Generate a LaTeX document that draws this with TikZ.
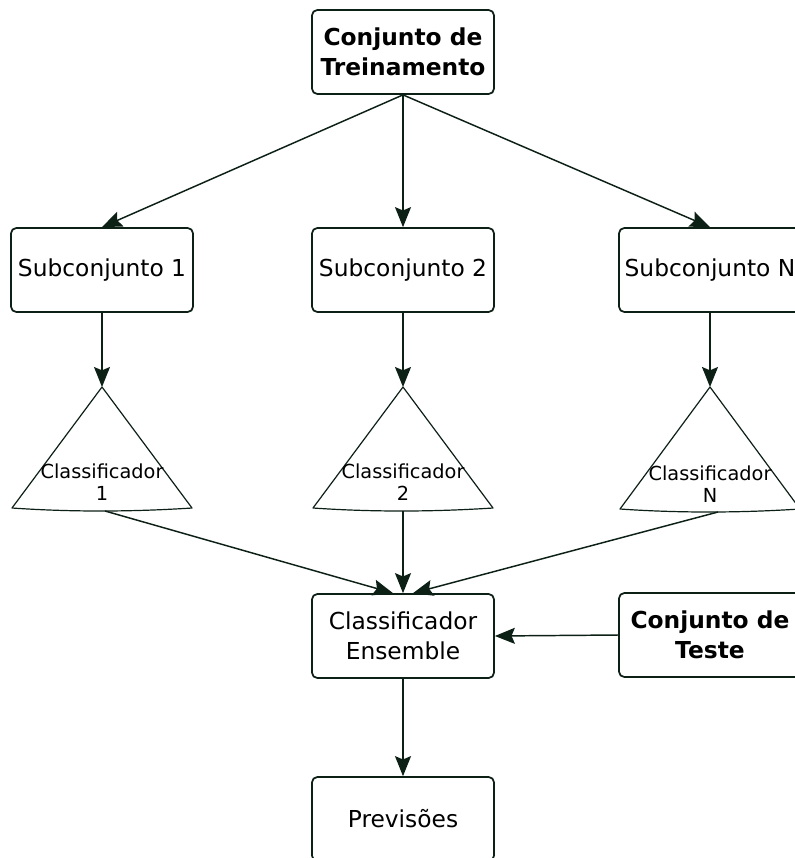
\documentclass[tikz,border=0pt]{standalone}
\usepackage{fontspec}
\setmainfont{DejaVu Sans}
\usetikzlibrary{arrows.meta}
\definecolor{linegreen}{RGB}{12,32,22}
\tikzset{
	box/.style={draw=linegreen, line width=1.3pt, rounded corners=4pt, minimum width=136.5pt, minimum height=63pt, align=center, font=\fontsize{17.5}{22.5}\selectfont},
	tri/.style={draw=linegreen, line width=0.9pt, line join=round},
	trilabel/.style={align=center, font=\fontsize{14.5}{17}\selectfont},
	arr/.style={draw=linegreen, line width=1.1pt, -{Stealth[length=15pt,width=12pt,inset=2.5pt]}}
}

\begin{document}
\begin{tikzpicture}[x=0.75pt, y=-0.75pt]
			%%%%% START %%%%%
			\useasboundingbox (0, 0) rectangle (794, 858);
			
			\node[box] (train) at (403, 52) {\textbf{Conjunto de}\\\textbf{Treinamento}};
			
			\node[box] (sub1) at (102, 270) {Subconjunto 1};
			\node[box] (sub2) at (403, 270) {Subconjunto 2};
			\node[box] (subN) at (710, 270) {Subconjunto N};
			
			\draw[tri] (12, 508) -- (102, 387) -- (192, 508) .. controls (130, 512) and (70, 512) .. cycle;
			\draw[tri] (313, 508) -- (403, 387) -- (493, 508) .. controls (431, 512) and (371, 512) .. cycle;
			\draw[tri] (620, 509) -- (710, 387) -- (800, 509) .. controls (738, 513) and (678, 513) .. cycle;
			
			\coordinate (top1) at (102, 387);
			\coordinate (top2) at (403, 387);
			\coordinate (topN) at (710, 387);
			\coordinate (base1) at (105, 511);
			\coordinate (base2) at (403, 511);
			\coordinate (baseN) at (718, 512);
			
			\node[trilabel] (cls1) at (102, 482) {Classificador\\1};
			\node[trilabel] (cls2) at (403, 482) {Classificador\\2};
			\node[trilabel] (clsN) at (710, 484) {Classificador\\N};
			
			\node[box] (ens) at (403, 636) {Classificador\\Ensemble};
			\node[box] (test) at (710, 635) {\textbf{Conjunto de}\\\textbf{Teste}};
			\node[box] (prev) at (403, 819) {Previsões};
			
			\draw[arr] (train.south) -- (sub1.north);
			\draw[arr] (train.south) -- (sub2.north);
			\draw[arr] (train.south) -- (subN.north);
			
			\draw[arr] (sub1.south) -- (top1);
			\draw[arr] (sub2.south) -- (top2);
			\draw[arr] (subN.south) -- (topN);
			
			\draw[arr] (base1) -- ([xshift=-7.5pt]ens.north);
			\draw[arr] (base2) -- (ens.north);
			\draw[arr] (baseN) -- ([xshift=7.5pt]ens.north);
			
			\draw[arr] (test.west) -- (ens.east);
			\draw[arr] (ens.south) -- (prev.north);
			
			%%%%% END %%%%%
\end{tikzpicture}
\end{document}
